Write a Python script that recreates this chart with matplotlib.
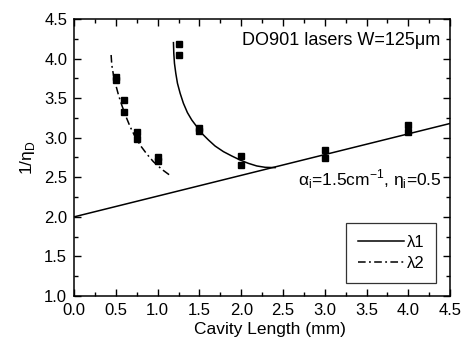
import matplotlib.pyplot as plt
from matplotlib.ticker import MultipleLocator

plt.rcParams["font.family"] = ["Liberation Sans", "DejaVu Sans"]

# measured 1/eta_D vs cavity length
meas_len = [0.5, 0.5, 0.6, 0.6, 0.75, 0.75, 1.0, 1.0,
            1.25, 1.25, 1.5, 1.5, 2.0, 2.0, 3.0, 3.0, 4.0, 4.0]
meas_inv = [3.77, 3.73, 3.48, 3.32, 3.07, 2.98, 2.75, 2.70,
            4.19, 4.05, 3.12, 3.08, 2.77, 2.65, 2.85, 2.74, 3.16, 3.07]

# fitted curves
l1_len = [1.189, 1.193, 1.201, 1.217, 1.237, 1.269, 1.308, 1.356, 1.408, 1.468,
          1.528, 1.608, 1.687, 1.787, 1.887, 1.987, 2.086, 2.186, 2.286, 2.405]
l1_inv = [4.201, 4.066, 3.940, 3.813, 3.687, 3.561, 3.435, 3.317, 3.224, 3.140,
          3.055, 2.971, 2.895, 2.824, 2.769, 2.718, 2.676, 2.643, 2.626, 2.622]
l2_len = [0.443, 0.451, 0.471, 0.499, 0.531, 0.570, 0.618, 0.670, 0.730, 0.798,
          0.870, 0.949, 1.049, 1.169]
l2_inv = [4.045, 3.919, 3.792, 3.666, 3.540, 3.413, 3.274, 3.140, 3.013, 2.895,
          2.794, 2.697, 2.601, 2.508]

# internal-loss line
lin_len = [0.0, 4.5]
lin_inv = [2.0, 3.18]

fig = plt.figure(figsize=(4.66, 3.45), dpi=100)
ax = fig.add_axes([0.159, 0.142, 0.807, 0.803])

ax.plot(lin_len, lin_inv, color="black", lw=1.1)
ax.plot(l1_len, l1_inv, color="black", lw=1.1, label="λ1")
ax.plot(l2_len, l2_inv, color="black", lw=1.1, ls=(0, (5, 2.2, 1.2, 2.2)), label="λ2")
ax.plot(meas_len, meas_inv, ls="none", marker="s", ms=5, color="black")

ax.set_xlim(0, 4.5)
ax.set_ylim(1.0, 4.5)
ax.xaxis.set_major_locator(MultipleLocator(0.5))
ax.xaxis.set_minor_locator(MultipleLocator(0.25))
ax.yaxis.set_major_locator(MultipleLocator(0.5))
ax.yaxis.set_minor_locator(MultipleLocator(0.25))
ax.tick_params(which="both", direction="in", top=True, right=True, labelsize=12)
ax.tick_params(which="major", length=5, width=1, pad=5)
ax.tick_params(which="minor", length=3, width=1)
for s in ax.spines.values():
    s.set_linewidth(1.1)

ax.set_xlabel("Cavity Length (mm)", fontsize=12.5, labelpad=2)
ax.xaxis.set_label_coords(0.52, -0.095)
ax.set_ylabel("1/η$_\\mathregular{D}$", fontsize=12.5, labelpad=5)

ax.text(4.38, 4.23, "DO901 lasers W=125μm", ha="right", va="center", fontsize=13)
ax.text(4.40, 2.47, "α$_\\mathregular{i}$=1.5cm$^\\mathregular{-1}$, η$_\\mathregular{i}$=0.5",
        ha="right", va="center", fontsize=12.5)

leg = ax.legend(loc="lower right", bbox_to_anchor=(0.963, 0.047), fontsize=12,
                frameon=True, fancybox=False, handlelength=2.8, handletextpad=0.15,
                borderpad=0.7, labelspacing=0.4, borderaxespad=0)
leg.get_frame().set_edgecolor("black")
leg.get_frame().set_linewidth(0.9)

fig.savefig("out.png", dpi=100)
